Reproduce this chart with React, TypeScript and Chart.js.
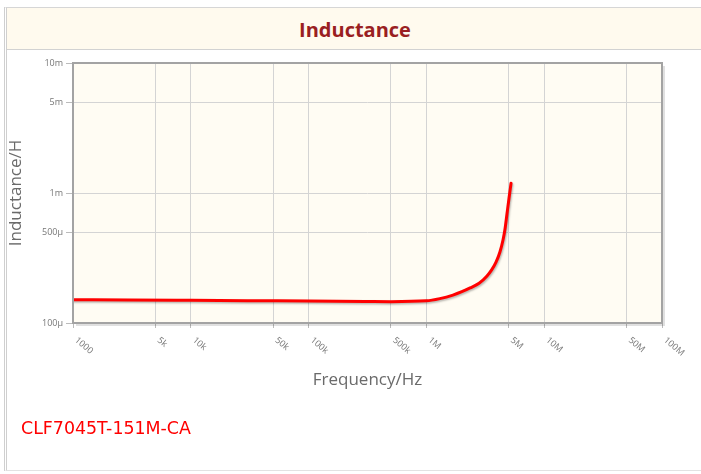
import React, { useEffect, useRef } from "react";
import { Chart, registerables } from "chart.js";

Chart.register(...registerables);

// Data
const frequencies = [1e3, 3e3, 1e4, 3e4, 1e5, 3e5, 5e5, 1e6, 1.3e6, 1.68e6, 2.0e6, 2.35e6, 2.8e6, 3.27e6, 3.58e6, 3.9e6, 4.21e6, 4.47e6, 4.65e6, 4.83e6, 5.03e6, 5.23e6];
const inductanceMicroH = [151, 150.5, 149.5, 148.5, 147.5, 146.5, 146, 148, 154, 164, 174, 186, 202, 230, 256, 294, 352, 435, 529, 690, 915, 1190];

const xTickValues = [1e3, 5e3, 1e4, 5e4, 1e5, 5e5, 1e6, 5e6, 1e7, 5e7, 1e8];
const xTickLabels = ["1000", "5k", "10k", "50k", "100k", "500k", "1M", "5M", "10M", "50M", "100M"];
const yTickValues = [1e-4, 5e-4, 1e-3, 5e-3, 1e-2];
const yTickLabels = ["100\u00b5", "500\u00b5", "1m", "5m", "10m"];

const chartTitle = "Inductance";
const xTitle = "Frequency/Hz";
const yTitle = "Inductance/H";
const partName = "CLF7045T-151M-CA";

const TICK_FONT = "9px 'Open Sans', sans-serif";

const plotPlugin = {
  id: "plotDecor",
  beforeDraw(chart: any) {
    const { ctx, chartArea: a } = chart;
    ctx.save();
    ctx.fillStyle = "#fffcf3";
    ctx.fillRect(a.left, a.top, a.right - a.left, a.bottom - a.top);
    ctx.restore();
  },
  beforeDatasetsDraw(chart: any) {
    const ctx = chart.ctx;
    ctx.save();
    ctx.shadowColor = "rgba(0,0,0,0.28)";
    ctx.shadowOffsetX = 1;
    ctx.shadowOffsetY = 1.5;
    ctx.shadowBlur = 2;
  },
  afterDatasetsDraw(chart: any) {
    chart.ctx.restore();
  },
  afterDraw(chart: any) {
    const { ctx, chartArea: a, scales } = chart;
    ctx.save();
    // shadow of the frame
    ctx.strokeStyle = "rgba(0,0,0,0.12)";
    ctx.lineWidth = 2;
    ctx.beginPath();
    ctx.moveTo(a.right + 2, a.top + 3);
    ctx.lineTo(a.right + 2, a.bottom + 2);
    ctx.lineTo(a.left + 3, a.bottom + 2);
    ctx.stroke();
    // frame
    ctx.strokeStyle = "#a3a3a3";
    ctx.lineWidth = 2;
    ctx.strokeRect(a.left, a.top, a.right - a.left, a.bottom - a.top);
    // rotated x tick labels
    const xs = scales.x;
    ctx.fillStyle = "#777";
    ctx.font = TICK_FONT;
    ctx.textAlign = "left";
    ctx.textBaseline = "middle";
    xTickValues.forEach((v, i) => {
      const px = xs.getPixelForValue(v);
      ctx.save();
      ctx.translate(px + 3, a.bottom + 16);
      ctx.rotate((40 * Math.PI) / 180);
      ctx.fillText(xTickLabels[i], 0, 0);
      ctx.restore();
    });
    ctx.restore();
  },
};

function InductanceChart() {
  const ref = useRef<HTMLCanvasElement | null>(null);
  useEffect(() => {
    if (!ref.current) return;
    const points = frequencies.map((f, i) => ({ x: f, y: inductanceMicroH[i] * 1e-6 }));
    const chart = new Chart(ref.current, {
      type: "line",
      data: {
        datasets: [
          {
            data: points,
            borderColor: "#ff0000",
            borderWidth: 3,
            pointRadius: 0,
            cubicInterpolationMode: "monotone",
            borderCapStyle: "round",
            borderJoinStyle: "round",
            fill: false,
          },
        ],
      },
      options: {
        responsive: false,
        animation: false,
        devicePixelRatio: 1,
        layout: { padding: { left: 0, top: 13, right: 39, bottom: 20 } },
        plugins: { legend: { display: false }, tooltip: { enabled: false }, title: { display: false } },
        scales: {
          x: {
            type: "logarithmic",
            min: 1e3,
            max: 1e8,
            afterBuildTicks: (s: any) => {
              s.ticks = xTickValues.map((v) => ({ value: v }));
            },
            afterFit: (s: any) => {
              s.height = 77;
            },
            ticks: { display: false },
            grid: { color: "#d4d4d4", lineWidth: 1, tickLength: 5, tickColor: "#bbb" },
            border: { display: false },
            title: {
              display: true,
              text: xTitle,
              color: "#6a6a6a",
              font: { family: "'Open Sans', sans-serif", size: 17 },
              padding: { top: 0, bottom: 10 },
            },
          },
          y: {
            type: "logarithmic",
            min: 1e-4,
            max: 1e-2,
            afterBuildTicks: (s: any) => {
              s.ticks = yTickValues.map((v) => ({ value: v }));
            },
            afterFit: (s: any) => {
              s.width = 73;
            },
            ticks: {
              color: "#777",
              font: { family: "'Open Sans', sans-serif", size: 9 },
              padding: 3,
              callback: (_v: any, i: number) => yTickLabels[i],
            },
            grid: { color: "#d4d4d4", lineWidth: 1, tickLength: 7, tickColor: "#bbb" },
            border: { display: false },
            title: {
              display: true,
              text: yTitle,
              color: "#6a6a6a",
              font: { family: "'Open Sans', sans-serif", size: 17 },
              padding: { top: 6, bottom: 0 },
            },
          },
        },
      },
      plugins: [plotPlugin],
    } as any);
    return () => chart.destroy();
  }, []);
  return <canvas ref={ref} width={701} height={370} style={{ position: "absolute", left: 0, top: 50, width: 701, height: 370 }} />;
}

export default function App() {
  return (
    <div style={{ position: "fixed", left: 0, top: 0, width: 701, height: 474, overflow: "hidden", background: "#fff" }}>
      <div
        style={{
          position: "absolute",
          left: 4,
          top: 7,
          width: 740,
          height: 464,
          borderTop: "1px solid #d6d6d6",
          borderLeft: "3px double #cfcfcf",
          borderBottom: "1px solid #e2e2e2",
          boxSizing: "border-box",
        }}
      />
      <div
        style={{
          position: "absolute",
          left: 7,
          top: 8,
          width: 740,
          height: 42,
          background: "#fffaee",
          borderBottom: "1px solid #d2d2d2",
          boxSizing: "border-box",
        }}
      />
      <div
        style={{
          position: "absolute",
          left: 0,
          top: 16,
          width: 710,
          textAlign: "center",
          fontFamily: "'Open Sans', sans-serif",
          fontWeight: 700,
          fontSize: 20,
          lineHeight: "28px",
          color: "#9a1f22",
        }}
      >
        {chartTitle}
      </div>
      <InductanceChart />
      <div
        style={{
          position: "absolute",
          left: 21,
          top: 417,
          fontFamily: "'DejaVu Sans', sans-serif",
          fontSize: 17.4,
          lineHeight: "22px",
          color: "#ff0000",
        }}
      >
        {partName}
      </div>
    </div>
  );
}
